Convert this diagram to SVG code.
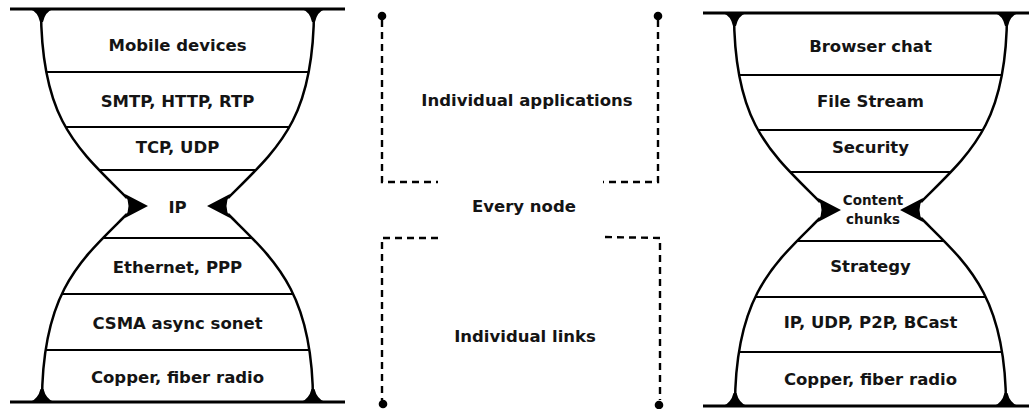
<svg xmlns="http://www.w3.org/2000/svg" width="1029" height="409" viewBox="0 0 1029 409">
<style>
  .lbl { font-family: "DejaVu Sans", "Liberation Sans", sans-serif; font-weight: bold; font-size: 16.5px; fill: #141414; text-anchor: middle; }
  .small { font-size: 13.5px; }
  .rim { stroke: #000; stroke-width: 3; fill: none; }
  .side { stroke: #000; stroke-width: 2.5; fill: none; }
  .layer { stroke: #000; stroke-width: 2; fill: none; }
  .tri { fill: #000; stroke: none; }
  .dash { stroke: #000; stroke-width: 2.4; fill: none; stroke-dasharray: 7 5; }
</style>
<defs>
  <clipPath id="glass">
    <path d="M41,9 C41,120 77,148 127,198 L127,214 C82,259 42,290 42,402 L313,402 C313,290 273,259 228,214 L228,198 C278,148 314,120 314,9 Z"/>
  </clipPath>
  <g id="outline">
    <line class="rim" x1="10" y1="9" x2="345" y2="9"/>
    <line class="rim" x1="10" y1="402" x2="345" y2="402"/>
    <path class="side" d="M41,9 C41,120 77,148 127,198"/>
    <path class="side" d="M127,214 C82,259 42,290 42,402"/>
    <path class="side" d="M314,9 C314,120 278,148 228,198"/>
    <path class="side" d="M228,214 C273,259 313,290 313,402"/>
    <path class="tri" d="M30,9 L53,9 Q45,12 43,22 L40,22 Q38,12 30,9 Z"/>
    <path class="tri" d="M302,9 L325,9 Q317,12 315,22 L312,22 Q310,12 302,9 Z"/>
    <path class="tri" d="M30,402 L54,402 Q46,399 43.5,389 L40.5,389 Q38,399 30,402 Z"/>
    <path class="tri" d="M301,402 L325,402 Q317,399 314.5,389 L311.5,389 Q309,399 301,402 Z"/>
    <path class="tri" d="M148,206 L125,194 Q132,206 125,218 Z"/>
    <path class="tri" d="M207,206 L230,194 Q223,206 230,218 Z"/>
  </g>
</defs>

<g id="hourglass-left">
  <use href="#outline"/>
  <g clip-path="url(#glass)">
    <line class="layer" x1="0" y1="72" x2="355" y2="72"/>
    <line class="layer" x1="0" y1="127" x2="355" y2="127"/>
    <line class="layer" x1="0" y1="170" x2="355" y2="170"/>
    <line class="layer" x1="0" y1="238" x2="355" y2="238"/>
    <line class="layer" x1="0" y1="294" x2="355" y2="294"/>
    <line class="layer" x1="0" y1="350" x2="355" y2="350"/>
  </g>
</g>
<g id="left-mobile"><text class="lbl" x="177.5" y="51">Mobile devices</text></g>
<g id="left-smtp"><text class="lbl" x="177.5" y="107">SMTP, HTTP, RTP</text></g>
<g id="left-tcp"><text class="lbl" x="177.5" y="152.5">TCP, UDP</text></g>
<g id="left-ip"><text class="lbl" x="177.5" y="213">IP</text></g>
<g id="left-ethernet"><text class="lbl" x="177.5" y="273">Ethernet, PPP</text></g>
<g id="left-csma"><text class="lbl" x="177.5" y="328.5">CSMA async sonet</text></g>
<g id="left-copper"><text class="lbl" x="177.5" y="383">Copper, fiber radio</text></g>

<g id="hourglass-right" transform="translate(693,4)">
  <use href="#outline"/>
  <g clip-path="url(#glass)">
    <line class="layer" x1="0" y1="71" x2="355" y2="71"/>
    <line class="layer" x1="0" y1="126" x2="355" y2="126"/>
    <line class="layer" x1="0" y1="168" x2="355" y2="168"/>
    <line class="layer" x1="0" y1="237" x2="355" y2="237"/>
    <line class="layer" x1="0" y1="293" x2="355" y2="293"/>
    <line class="layer" x1="0" y1="348" x2="355" y2="348"/>
  </g>
</g>
<g id="right-browser"><text class="lbl" x="870.5" y="51.5">Browser chat</text></g>
<g id="right-file"><text class="lbl" x="870.5" y="107">File Stream</text></g>
<g id="right-security"><text class="lbl" x="870.5" y="152.5">Security</text></g>
<g id="right-content"><text class="lbl small" x="873" y="204.5">Content</text><text class="lbl small" x="873" y="223.5">chunks</text></g>
<g id="right-strategy"><text class="lbl" x="870.5" y="272">Strategy</text></g>
<g id="right-ip"><text class="lbl" x="870.5" y="328">IP, UDP, P2P, BCast</text></g>
<g id="right-copper"><text class="lbl" x="870.5" y="384.5">Copper, fiber radio</text></g>

<g id="connectors">
  <path class="dash" d="M382,20 L382,182 L438,182"/>
  <path class="dash" d="M658,20 L658,182 L603,182"/>
  <path class="dash" d="M438,238 L382,238 L382,400"/>
  <path class="dash" d="M605,237 L660,238 L660,400"/>
  <circle cx="382" cy="16" r="4.3" fill="#000"/>
  <circle cx="658" cy="16" r="4.3" fill="#000"/>
  <circle cx="383" cy="404" r="4.3" fill="#000"/>
  <circle cx="659" cy="405" r="4.3" fill="#000"/>
</g>
<g id="mid-apps"><text class="lbl" x="527" y="106">Individual applications</text></g>
<g id="mid-every"><text class="lbl" x="524" y="211.5">Every node</text></g>
<g id="mid-links"><text class="lbl" x="525" y="341.5">Individual links</text></g>
</svg>
